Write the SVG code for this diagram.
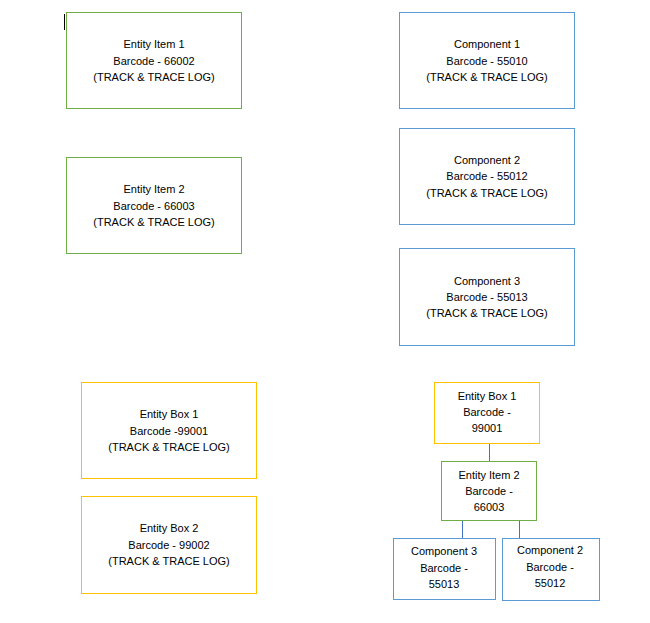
<svg xmlns="http://www.w3.org/2000/svg" width="650" height="623" viewBox="0 0 650 623">
<style>
rect{fill:#fff;stroke-width:1}
.g{stroke:#70AD47}
.b{stroke:#5B9BD5}
.y{stroke:#FFC000}
text{font-family:"Liberation Sans",Arial,sans-serif;font-size:11px;fill:#000;text-anchor:middle;dominant-baseline:central}
.c line{stroke:#4472C4;stroke-width:1}
</style>
<rect x="0" y="0" width="650" height="623" style="fill:#fff;stroke:none"/>
<line x1="64.5" y1="14" x2="64.5" y2="30" stroke="#000" stroke-width="1"/>
<g id="entity-item-1"><rect class="g" x="66.5" y="12.5" width="175" height="96"/>
<text x="154" y="44">Entity Item 1</text><text x="154" y="61">Barcode - 66002</text><text x="154" y="77">(TRACK &amp; TRACE LOG)</text></g>
<g id="entity-item-2"><rect class="g" x="66.5" y="157.5" width="175" height="96"/>
<text x="154" y="189">Entity Item 2</text><text x="154" y="206">Barcode - 66003</text><text x="154" y="222">(TRACK &amp; TRACE LOG)</text></g>
<g id="component-1"><rect class="b" x="399.5" y="12.5" width="175" height="96"/>
<text x="487" y="44">Component 1</text><text x="487" y="61">Barcode - 55010</text><text x="487" y="77">(TRACK &amp; TRACE LOG)</text></g>
<g id="component-2"><rect class="b" x="399.5" y="128.5" width="175" height="96"/>
<text x="487" y="160">Component 2</text><text x="487" y="176">Barcode - 55012</text><text x="487" y="193">(TRACK &amp; TRACE LOG)</text></g>
<g id="component-3"><rect class="b" x="399.5" y="248.5" width="175" height="97"/>
<text x="487" y="281">Component 3</text><text x="487" y="297">Barcode - 55013</text><text x="487" y="313">(TRACK &amp; TRACE LOG)</text></g>
<g id="entity-box-1"><rect class="y" x="81.5" y="382.5" width="175" height="96"/>
<text x="169" y="414">Entity Box 1</text><text x="169" y="431">Barcode -99001</text><text x="169" y="447">(TRACK &amp; TRACE LOG)</text></g>
<g id="entity-box-2"><rect class="y" x="81.5" y="496.5" width="175" height="97"/>
<text x="169" y="528">Entity Box 2</text><text x="169" y="545">Barcode - 99002</text><text x="169" y="561">(TRACK &amp; TRACE LOG)</text></g>
<g class="c" id="connectors">
<line x1="489.5" y1="444" x2="489.5" y2="461"/>
<line x1="462.5" y1="520" x2="462.5" y2="538"/>
<line x1="519.5" y1="520" x2="519.5" y2="538"/>
</g>
<g id="tree-entity-box-1"><rect class="y" x="434.5" y="382.5" width="105" height="61"/>
<text x="487" y="396">Entity Box 1</text><text x="487" y="412">Barcode -</text><text x="487" y="428">99001</text></g>
<g id="tree-entity-item-2"><rect class="g" x="441.5" y="461.5" width="95" height="59"/>
<text x="489" y="475">Entity Item 2</text><text x="489" y="491">Barcode -</text><text x="489" y="507">66003</text></g>
<g id="tree-component-3"><rect class="b" x="393.5" y="538.5" width="102" height="61"/>
<text x="444" y="551">Component 3</text><text x="444" y="568">Barcode -</text><text x="444" y="584">55013</text></g>
<g id="tree-component-2"><rect class="b" x="502.5" y="538.5" width="97" height="62"/>
<text x="550" y="550">Component 2</text><text x="550" y="567">Barcode -</text><text x="550" y="583">55012</text></g>
</svg>
